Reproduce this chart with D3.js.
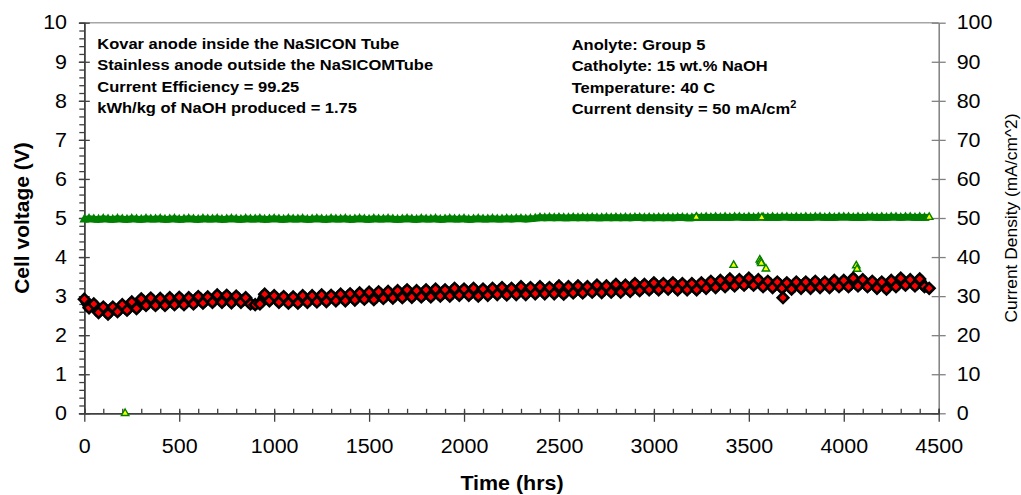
<html>
<head>
<meta charset="utf-8" />
<title>Cell voltage and current density vs time</title>
<script src="https://cdn.jsdelivr.net/npm/d3@7/dist/d3.min.js"></script>
<style>
	body { margin: 0; background: #fff; }
	text { font-family: "Liberation Sans", Arial, sans-serif; fill: #000; }
</style>
</head>
<body>
<svg id="chart" width="1021" height="495"></svg>
<script>
// time of each reading (hrs)
const timeHrs = [
	0, 25, 50, 75, 100, 125, 150, 175,
	200, 225, 250, 275, 300, 325, 350, 375,
	400, 425, 450, 475, 500, 525, 550, 575,
	600, 625, 650, 675, 700, 725, 750, 775,
	800, 825, 850, 875, 900, 925, 950, 975,
	1000, 1025, 1050, 1075, 1100, 1125, 1150, 1175,
	1200, 1225, 1250, 1275, 1300, 1325, 1350, 1375,
	1400, 1425, 1450, 1475, 1500, 1525, 1550, 1575,
	1600, 1625, 1650, 1675, 1700, 1725, 1750, 1775,
	1800, 1825, 1850, 1875, 1900, 1925, 1950, 1975,
	2000, 2025, 2050, 2075, 2100, 2125, 2150, 2175,
	2200, 2225, 2250, 2275, 2300, 2325, 2350, 2375,
	2400, 2425, 2450, 2475, 2500, 2525, 2550, 2575,
	2600, 2625, 2650, 2675, 2700, 2725, 2750, 2775,
	2800, 2825, 2850, 2875, 2900, 2925, 2950, 2975,
	3000, 3025, 3050, 3075, 3100, 3125, 3150, 3175,
	3200, 3225, 3250, 3275, 3300, 3325, 3350, 3375,
	3400, 3425, 3450, 3475, 3500, 3525, 3550, 3575,
	3600, 3625, 3650, 3675, 3700, 3725, 3750, 3775,
	3800, 3825, 3850, 3875, 3900, 3925, 3950, 3975,
	4000, 4025, 4050, 4075, 4100, 4125, 4150, 4175,
	4200, 4225, 4250, 4275, 4300, 4325, 4350, 4375,
	4400, 4425, 4450
];

// cell voltage (V), left axis
const cellVoltage = [
	2.92, 2.70, 2.80, 2.58, 2.72, 2.54, 2.72, 2.60,
	2.78, 2.64, 2.85, 2.68, 2.93, 2.76, 2.95, 2.76,
	2.94, 2.76, 2.96, 2.78, 2.97, 2.78, 2.96, 2.80,
	2.99, 2.82, 2.98, 2.84, 3.03, 2.84, 3.02, 2.83,
	3.00, 2.84, 2.96, 2.80, 2.78, 2.80, 3.05, 2.88,
	3.01, 2.84, 2.99, 2.82, 2.98, 2.82, 3.01, 2.84,
	3.01, 2.85, 3.03, 2.86, 3.02, 2.88, 3.05, 2.88,
	3.06, 2.90, 3.08, 2.92, 3.10, 2.91, 3.11, 2.94,
	3.12, 2.95, 3.14, 2.96, 3.16, 2.97, 3.14, 2.98,
	3.16, 2.98, 3.18, 3.00, 3.16, 3.00, 3.20, 3.02,
	3.18, 3.02, 3.20, 3.00, 3.18, 3.02, 3.20, 3.04,
	3.22, 3.03, 3.20, 3.04, 3.24, 3.04, 3.22, 3.06,
	3.24, 3.06, 3.22, 3.06, 3.26, 3.05, 3.24, 3.08,
	3.26, 3.08, 3.24, 3.10, 3.28, 3.09, 3.26, 3.10,
	3.30, 3.10, 3.28, 3.12, 3.32, 3.14, 3.30, 3.16,
	3.34, 3.16, 3.32, 3.18, 3.34, 3.16, 3.32, 3.16,
	3.32, 3.16, 3.34, 3.20, 3.38, 3.22, 3.40, 3.24,
	3.44, 3.26, 3.42, 3.28, 3.46, 3.28, 3.42, 3.24,
	3.38, 3.22, 3.36, 3.20, 3.34, 3.18, 3.36, 3.20,
	3.36, 3.20, 3.38, 3.22, 3.36, 3.22, 3.40, 3.24,
	3.40, 3.24, 3.46, 3.26, 3.42, 3.24, 3.38, 3.20,
	3.36, 3.18, 3.40, 3.24, 3.46, 3.28, 3.42, 3.26,
	3.44, 3.24, 3.20
];

// current density (mA/cm^2), right axis
const currentDensity = [
	49.6, 49.8, 49.7, 49.6, 49.8, 49.7, 49.6, 49.8,
	49.7, 49.6, 49.8, 49.7, 49.6, 49.8, 49.7, 49.7,
	49.8, 49.6, 49.7, 49.8, 49.6, 49.7, 49.8, 49.7,
	49.6, 49.8, 49.7, 49.7, 49.8, 49.6, 49.7, 49.8,
	49.7, 49.6, 49.8, 49.7, 49.7, 49.8, 49.6, 49.7,
	49.8, 49.7, 49.6, 49.8, 49.7, 49.7, 49.8, 49.6,
	49.7, 49.8, 49.7, 49.6, 49.8, 49.7, 49.7, 49.8,
	49.6, 49.7, 49.8, 49.7, 49.6, 49.8, 49.7, 49.7,
	49.8, 49.7, 49.6, 49.7, 49.8, 49.7, 49.6, 49.8,
	49.7, 49.7, 49.8, 49.6, 49.7, 49.8, 49.7, 49.7,
	49.8, 49.6, 49.7, 49.8, 49.7, 49.7, 49.8, 49.7,
	49.7, 49.8, 49.7, 49.8, 49.8, 49.7, 49.8, 49.9,
	50.1, 50.0, 50.1, 50.0, 50.1, 50.0, 50.0, 50.1,
	50.0, 50.1, 50.0, 50.1, 50.0, 50.0, 50.1, 50.0,
	50.1, 50.0, 50.1, 50.0, 50.1, 50.1, 50.0, 50.1,
	50.0, 50.1, 50.0, 50.1, 50.0, 50.1, 50.1, 50.0,
	50.0, 50.2, 50.1, 50.2, 50.1, 50.2, 50.1, 50.2,
	50.1, 50.2, 50.2, 50.1, 50.2, 50.1, 50.2, 50.2,
	50.1, 50.2, 50.1, 50.2, 50.2, 50.1, 50.2, 50.1,
	50.2, 50.1, 50.2, 50.2, 50.1, 50.2, 50.1, 50.2,
	50.2, 50.2, 50.1, 50.2, 50.1, 50.2, 50.2, 50.1,
	50.2, 50.1, 50.2, 50.2, 50.1, 50.2, 50.2, 50.1,
	50.2, 50.1, 50.2
];

// stray readings away from the main bands
const voltSpikeTime = [3680];
const voltSpikeValue = [2.96];
const currSpikeTime = [215, 3223, 3420, 3558, 3562, 3566, 3568, 3590, 4066, 4070];
const currSpikeValue = [0, 50.2, 37.9, 39.3, 38.8, 38.4, 50.1, 37.0, 37.8, 36.9];

const xTicks = [0, 500, 1000, 1500, 2000, 2500, 3000, 3500, 4000, 4500];

const notesLeft = [
	'Kovar anode inside the NaSICON Tube',
	'Stainless anode outside the NaSICOMTube',
	'Current Efficiency = 99.25',
	'kWh/kg of NaOH produced = 1.75'
];
const notesRight = [
	'Anolyte: Group 5',
	'Catholyte: 15 wt.% NaOH',
	'Temperature: 40 C'
];

const plotL = 84.3, plotR = 938.7, plotT = 22.7, plotB = 413.3;
const sx = 1.1; // text in the original is slightly wide

const svg = d3.select('#chart');
svg.append('rect').attr('width', 1021).attr('height', 495).attr('fill', '#fff');

const x = d3.scaleLinear().domain([0, 4500]).range([plotL, plotR]);
const yV = d3.scaleLinear().domain([0, 10]).range([plotB, plotT]);
const yC = d3.scaleLinear().domain([0, 100]).range([plotB, plotT]);

// top frame line
svg.append('line')
	.attr('x1', plotL).attr('x2', plotR).attr('y1', plotT).attr('y2', plotT)
	.attr('stroke', '#a6a6a6').attr('stroke-width', 1.5);

// ---- left axis
let gl = svg.append('g').attr('transform', `translate(${plotL},0)`);
gl.append('g').call(d3.axisLeft(yV).tickValues(d3.range(0, 10.01, 0.2)).tickSize(5).tickFormat(''));
let glm = gl.append('g').call(d3.axisLeft(yV).ticks(10).tickSize(0).tickPadding(0).tickFormat(d3.format('d')));
glm.selectAll('.tick').append('line').attr('x1', -5.5).attr('x2', 5.5);
gl.selectAll('.tick line').attr('stroke', '#404040').attr('stroke-width', 1.3);
gl.selectAll('.domain').attr('stroke', '#404040').attr('stroke-width', 1.5);
glm.selectAll('text')
	.attr('x', -17.3 / sx).attr('transform', `scale(${sx},1)`)
	.style('font-size', '19.5px').style('font-family', '"Liberation Sans", Arial, sans-serif');

// ---- right axis
let gr = svg.append('g').attr('transform', `translate(${plotR},0)`);
gr.call(d3.axisRight(yC).ticks(10).tickSize(0).tickPadding(0));
gr.selectAll('.tick').append('line').attr('x1', -7).attr('x2', 7).attr('stroke', '#808080').attr('stroke-width', 1.3);
gr.select('.domain').attr('stroke', '#808080').attr('stroke-width', 1.5);
gr.selectAll('text')
	.attr('x', 18 / sx).attr('transform', `scale(${sx},1)`)
	.style('font-size', '19.5px').style('font-family', '"Liberation Sans", Arial, sans-serif');

// ---- bottom axis
let gb = svg.append('g').attr('transform', `translate(0,${plotB})`);
gb.append('g').call(d3.axisBottom(x).tickValues(d3.range(0, 4501, 100)).tickSize(-4.5).tickFormat(''));
let gbm = gb.append('g').call(d3.axisBottom(x).tickValues(xTicks).tickSize(0).tickPadding(0).tickFormat(d3.format('d')));
gbm.selectAll('.tick').append('line').attr('y1', -2.5).attr('y2', 8.5);
gb.selectAll('.tick line').attr('stroke', '#404040').attr('stroke-width', 1.3);
gb.selectAll('.domain').attr('stroke', '#404040').attr('stroke-width', 1.5);
gbm.selectAll('text')
	.attr('y', 0).attr('dy', '2.05em').attr('x', 0).attr('transform', `scale(${sx},1)`)
	.style('font-size', '19.5px').style('font-family', '"Liberation Sans", Arial, sans-serif');

// ---- current density (green triangles, yellow fill; readings are so dense they merge into a band)
const currPts = timeHrs.map((t, i) => ({ t: t, v: currentDensity[i], last: i === timeHrs.length - 1 }));
const tri = d3.symbol().type(d3.symbolTriangle).size(24);
const gc = svg.append('g');
gc.append('path')
	.datum(currPts)
	.attr('d', d3.line().x((d) => x(d.t)).y((d) => yC(d.v)))
	.attr('fill', 'none').attr('stroke', '#008000').attr('stroke-width', 7);
gc.selectAll('path.c')
	.data(currPts)
	.enter().append('path')
	.attr('d', tri)
	.attr('transform', (d) => `translate(${x(d.t)},${yC(d.v)})`)
	.attr('fill', (d) => d.last ? '#ffff00' : '#008000')
	.attr('stroke', '#008000').attr('stroke-width', 1.4);
gc.selectAll('path.s')
	.data(currSpikeTime.map((t, i) => ({ t: t, v: currSpikeValue[i] })))
	.enter().append('path')
	.attr('d', tri)
	.attr('transform', (d) => `translate(${x(d.t)},${yC(d.v)})`)
	.attr('fill', '#ffff00')
	.attr('stroke', '#008000').attr('stroke-width', 1.4);

// ---- cell voltage (red diamonds, black border; dense readings merge into a dark band)
const voltPts = timeHrs.map((t, i) => ({ t: t, v: cellVoltage[i] }));
const dia = d3.symbol().type(d3.symbolSquare).size(56);
const gv = svg.append('g');
gv.append('path')
	.datum(voltPts)
	.attr('d', d3.line().x((d) => x(d.t)).y((d) => yV(d.v)))
	.attr('fill', 'none').attr('stroke', '#000').attr('stroke-width', 10)
	.attr('stroke-linejoin', 'round');
gv.selectAll('path.v')
	.data(voltPts.concat(voltSpikeTime.map((t, i) => ({ t: t, v: voltSpikeValue[i] }))))
	.enter().append('path')
	.attr('d', dia)
	.attr('transform', (d) => `translate(${x(d.t)},${yV(d.v)}) rotate(45)`)
	.attr('fill', '#ff0000')
	.attr('stroke', '#000').attr('stroke-width', 2.6);

// ---- notes
function note(px, py, str, size, bold) {
	return svg.append('text')
		.attr('transform', `translate(${px},${py}) scale(${sx},1)`)
		.style('font-size', size + 'px')
		.style('font-weight', bold ? 'bold' : 'normal')
		.text(str);
}
notesLeft.forEach((s, i) => note(97.3, 49 + i * 21.3, s, 15, true));
notesRight.forEach((s, i) => note(571.7, 50 + i * 21.3, s, 15, true));
let cd = note(571.7, 114, 'Current density = 50 mA/cm', 15, true);
cd.append('tspan').attr('dy', -6).style('font-size', '10px').text('2');

// ---- axis titles
svg.append('text')
	.attr('transform', `translate(${512},${490}) scale(${sx},1)`)
	.attr('text-anchor', 'middle')
	.style('font-size', '19.5px').style('font-weight', 'bold')
	.text('Time (hrs)');
svg.append('text')
	.attr('transform', `translate(29,${(plotT + plotB) / 2}) rotate(-90)`)
	.attr('text-anchor', 'middle')
	.style('font-size', '21px').style('font-weight', 'bold')
	.text('Cell voltage (V)');
svg.append('text')
	.attr('transform', `translate(1017,218) rotate(-90)`)
	.attr('text-anchor', 'middle')
	.style('font-size', '17.4px')
	.text('Current Density (mA/cm^2)');
</script>
</body>
</html>
